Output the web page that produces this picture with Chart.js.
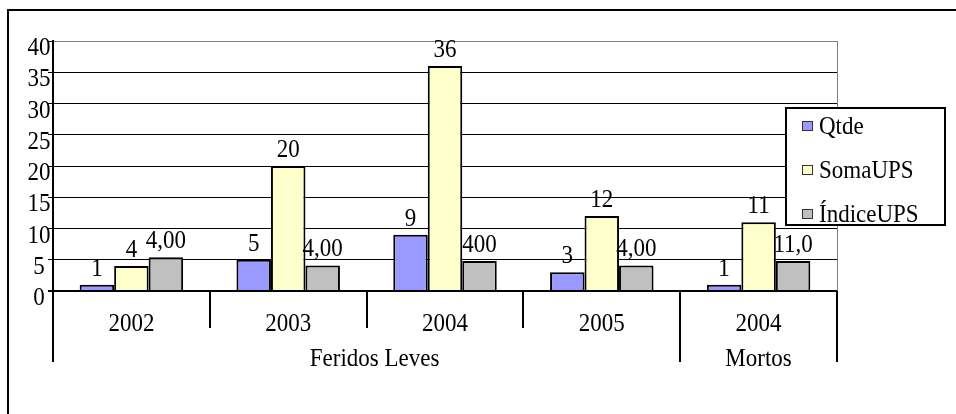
<!DOCTYPE html>
<html>
<head>
<meta charset="utf-8">
<title>Qtde / SomaUPS / ÍndiceUPS</title>
<script src="https://cdn.jsdelivr.net/npm/chart.js@4.4.1/dist/chart.umd.min.js"></script>
<style>
  html, body { margin: 0; padding: 0; background: #fff; }
  canvas { display: block; }
</style>
</head>
<body>
<canvas id="chart" width="956" height="414"></canvas>
<script>
// categories: year on the first level, group on the second
const years = ['2002', '2003', '2004', '2005', '2004'];
const groups = ['Feridos Leves', 'Feridos Leves', 'Feridos Leves', 'Feridos Leves', 'Mortos'];

// series
const qtde = [1, 5, 9, 3, 1];
const somaUPS = [4, 20, 36, 12, 11];
const indiceUPS = [5.4, 4.1, 4.8, 4.1, 4.8];
const indiceLabels = ['4,00', '4,00', '400', '4,00', '11,0'];

const yTicks = [0, 5, 10, 15, 20, 25, 30, 35, 40];

const FONT = "'Liberation Serif', 'Times New Roman', serif";

// old excel text is a bit taller than it is wide
function tallText(ctx, text, x, y) {
  ctx.save();
  ctx.translate(x, y);
  ctx.scale(1, 1.13);
  ctx.fillText(text, 0, 0);
  ctx.restore();
}

const excelBits = {
  id: 'excelBits',
  beforeDraw(chart) {
    const ctx = chart.ctx;
    ctx.save();
    ctx.fillStyle = '#fff';
    ctx.fillRect(0, 0, chart.width, chart.height);
    // outer frame (only left and top are in the picture)
    ctx.fillStyle = '#000';
    ctx.fillRect(7, 9, 2, chart.height - 9);
    ctx.fillRect(7, 9, chart.width - 7, 2);
    ctx.restore();
  },
  afterDatasetsDraw(chart) {
    const ctx = chart.ctx;
    const area = chart.chartArea;
    const xs = chart.scales.x;
    const ys = chart.scales.y;
    ctx.save();

    // plot area right edge
    ctx.strokeStyle = '#808080';
    ctx.lineWidth = 1;
    ctx.beginPath();
    ctx.moveTo(area.right + 0.5, area.top);
    ctx.lineTo(area.right + 0.5, area.bottom);
    ctx.stroke();

    ctx.fillStyle = '#000';
    ctx.font = '23px ' + FONT;
    ctx.textAlign = 'center';
    ctx.textBaseline = 'alphabetic';

    // y tick labels, hanging just under their gridline
    yTicks.forEach(v => {
      tallText(ctx, String(v), area.left - 14, ys.getPixelForValue(v) + 14);
    });

    // value labels
    chart.data.datasets.forEach((ds, di) => {
      chart.getDatasetMeta(di).data.forEach((bar, i) => {
        tallText(ctx, ds.valueLabels[i], bar.x, bar.y - 9);
      });
    });

    // two level category axis
    const n = years.length;
    const w = (area.right - area.left) / n;
    ctx.strokeStyle = '#000';
    ctx.lineWidth = 2;
    for (let i = 0; i <= n; i++) {
      const px = Math.round(area.left + i * w);
      const edge = i === 0 || i === n || groups[i] !== groups[i - 1];
      ctx.beginPath();
      ctx.moveTo(px, area.bottom);
      ctx.lineTo(px, area.bottom + (edge ? 71 : 37));
      ctx.stroke();
    }
    years.forEach((y, i) => {
      tallText(ctx, y, xs.getPixelForValue(i), area.bottom + 40);
    });
    let start = 0;
    for (let i = 1; i <= n; i++) {
      if (i === n || groups[i] !== groups[start]) {
        const cx = area.left + ((start + i) / 2) * w;
        tallText(ctx, groups[start], cx + (i - start > 1 ? 8 : 0), area.bottom + 75);
        start = i;
      }
    }
    ctx.restore();
  },
  afterDraw(chart) {
    const ctx = chart.ctx;
    const area = chart.chartArea;
    const lx = area.right - 51, ly = 108, lw = 159, lh = 117;
    ctx.save();
    ctx.fillStyle = '#fff';
    ctx.fillRect(lx, ly, lw, lh);
    ctx.strokeStyle = '#000';
    ctx.lineWidth = 2;
    ctx.strokeRect(lx, ly, lw, lh);
    ctx.font = '23px ' + FONT;
    ctx.textAlign = 'left';
    ctx.textBaseline = 'alphabetic';
    chart.data.datasets.forEach((ds, i) => {
      const base = ly + 26 + i * 44;
      ctx.fillStyle = ds.backgroundColor;
      ctx.fillRect(lx + 16, base - 13, 11, 10);
      ctx.strokeStyle = '#333';
      ctx.lineWidth = 1;
      ctx.strokeRect(lx + 16.5, base - 12.5, 10, 9);
      ctx.fillStyle = '#000';
      tallText(ctx, ds.label, lx + 33, base);
    });
    ctx.restore();
  }
};

new Chart(document.getElementById('chart'), {
  type: 'bar',
  data: {
    labels: years,
    datasets: [
      { label: 'Qtde', data: qtde, valueLabels: qtde.map(String), backgroundColor: '#9999FF' },
      { label: 'SomaUPS', data: somaUPS, valueLabels: somaUPS.map(String), backgroundColor: '#FFFFCC' },
      { label: 'ÍndiceUPS', data: indiceUPS, valueLabels: indiceLabels, backgroundColor: '#C0C0C0' }
    ].map(ds => Object.assign(ds, {
      borderColor: '#000',
      borderWidth: 2,
      borderSkipped: 'start',
      barPercentage: 1,
      categoryPercentage: 0.66
    }))
  },
  options: {
    responsive: false,
    animation: false,
    devicePixelRatio: 1,
    layout: { padding: { left: 0, top: 41, right: 119, bottom: 123 } },
    plugins: {
      legend: { display: false },
      tooltip: { enabled: false }
    },
    scales: {
      x: { display: false },
      y: {
        min: 0,
        max: 40,
        afterFit: s => { s.width = 53; },
        afterBuildTicks: s => { s.ticks = yTicks.map(v => ({ value: v })); },
        border: { display: true, color: '#000', width: 2 },
        grid: {
          color: c => (c.tick && c.tick.value === 40 ? '#808080' : '#000'),
          lineWidth: c => (c.tick && c.tick.value === 0 ? 2 : 1),
          tickColor: '#000',
          tickLength: 5,
          drawTicks: true
        },
        ticks: { display: false }
      }
    }
  },
  plugins: [excelBits]
});
</script>
</body>
</html>
